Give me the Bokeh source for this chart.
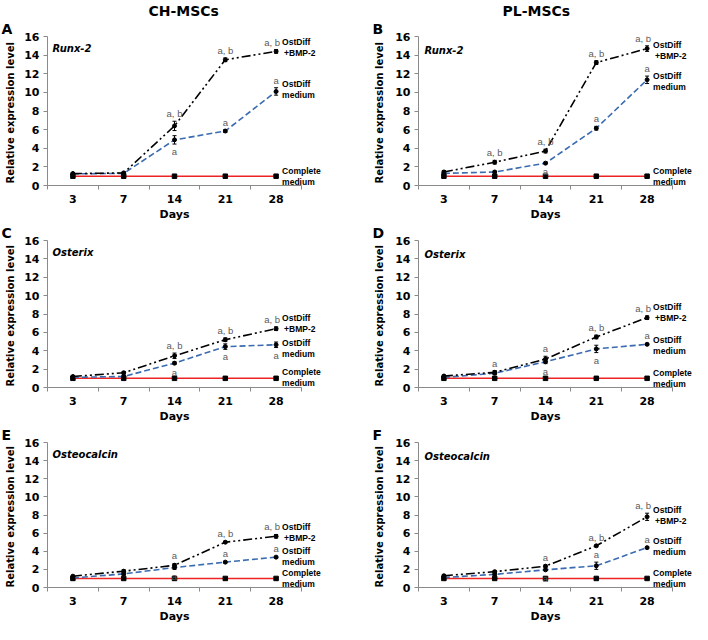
from bokeh.plotting import figure
from bokeh.models import Range1d, FixedTicker, Title, ColumnDataSource, Whisker, TeeHead
from bokeh.layouts import gridplot
from bokeh.embed import file_html
from bokeh.resources import INLINE
from bokeh.core.properties import value

# ---------------- data ----------------
days = ["3", "7", "14", "21", "28"]
x_idx = [1, 2, 3, 4, 5]
y_ticks = [0, 2, 4, 6, 8, 10, 12, 14, 16]

headers = ["CH-MSCs", "PL-MSCs"]
panel_letters = ["A", "B", "C", "D", "E", "F"]
genes = ["Runx-2", "Runx-2", "Osterix", "Osterix", "Osteocalcin", "Osteocalcin"]

# Panel A  (CH-MSCs, Runx-2)
A_complete = [1.0, 1.0, 1.0, 1.0, 1.0]
A_ostdiff = [1.25, 1.3, 4.9, 5.85, 10.1]
A_bmp2 = [1.28, 1.35, 6.4, 13.5, 14.4]
A_ostdiff_err = [0.1, 0.1, 0.45, 0.15, 0.4]
A_bmp2_err = [0.1, 0.1, 0.5, 0.2, 0.2]
A_notes = [("bmp2", 2, "a, b", "above"), ("ostdiff", 2, "a", "below"),
           ("ostdiff", 3, "a", "above"), ("bmp2", 3, "a, b", "above"),
           ("bmp2", 4, "a, b", "above"), ("ostdiff", 4, "a", "above")]
A_label_y = [14.8, 10.3, 0.95]

# Panel B  (PL-MSCs, Runx-2)
B_complete = [1.0, 1.0, 1.0, 1.0, 1.0]
B_ostdiff = [1.3, 1.45, 2.4, 6.15, 11.35]
B_bmp2 = [1.45, 2.5, 3.7, 13.2, 14.7]
B_ostdiff_err = [0.1, 0.1, 0.1, 0.2, 0.4]
B_bmp2_err = [0.15, 0.2, 0.2, 0.2, 0.3]
B_notes = [("bmp2", 1, "a, b", "above"), ("bmp2", 2, "a, b", "above"),
           ("ostdiff", 2, "a", "below"), ("ostdiff", 3, "a", "above"),
           ("bmp2", 3, "a, b", "above"), ("bmp2", 4, "a, b", "above"),
           ("ostdiff", 4, "a", "above")]
B_label_y = [14.5, 11.15, 0.95]

# Panel C  (CH-MSCs, Osterix)
C_complete = [1.0, 1.0, 1.0, 1.0, 1.0]
C_ostdiff = [1.1, 1.2, 2.65, 4.45, 4.65]
C_bmp2 = [1.2, 1.6, 3.45, 5.2, 6.4]
C_ostdiff_err = [0.1, 0.1, 0.15, 0.3, 0.3]
C_bmp2_err = [0.1, 0.15, 0.3, 0.2, 0.2]
C_notes = [("bmp2", 2, "a, b", "above"), ("ostdiff", 2, "a", "below"),
           ("bmp2", 3, "a, b", "above"), ("ostdiff", 3, "a", "below"),
           ("bmp2", 4, "a, b", "above"), ("ostdiff", 4, "a", "below")]
C_label_y = [6.95, 4.2, 1.05]

# Panel D  (PL-MSCs, Osterix)
D_complete = [1.0, 1.0, 1.0, 1.0, 1.0]
D_ostdiff = [1.1, 1.55, 2.8, 4.2, 4.7]
D_bmp2 = [1.25, 1.65, 3.1, 5.5, 7.6]
D_ostdiff_err = [0.1, 0.1, 0.2, 0.4, 0.1]
D_bmp2_err = [0.1, 0.2, 0.3, 0.2, 0.2]
D_notes = [("bmp2", 1, "a", "above"), ("bmp2", 2, "a", "above"),
           ("ostdiff", 2, "a", "below"), ("bmp2", 3, "a, b", "above"),
           ("ostdiff", 3, "a", "below"), ("bmp2", 4, "a, b", "above"),
           ("ostdiff", 4, "a", "above")]
D_label_y = [8.15, 4.6, 0.95]

# Panel E  (CH-MSCs, Osteocalcin)
E_complete = [1.0, 1.0, 1.0, 1.0, 1.0]
E_ostdiff = [1.05, 1.5, 2.2, 2.8, 3.35]
E_bmp2 = [1.25, 1.8, 2.45, 5.0, 5.65]
E_ostdiff_err = [0.1, 0.15, 0.2, 0.1, 0.1]
E_bmp2_err = [0.1, 0.15, 0.2, 0.1, 0.2]
E_notes = [("bmp2", 2, "a", "above"), ("ostdiff", 2, "a", "below"),
           ("ostdiff", 3, "a", "above"), ("bmp2", 3, "a, b", "above"),
           ("bmp2", 4, "a, b", "above"), ("ostdiff", 4, "a", "above")]
E_label_y = [6.1, 3.4, 0.95]

# Panel F  (PL-MSCs, Osteocalcin)
F_complete = [1.0, 1.0, 1.0, 1.0, 1.0]
F_ostdiff = [1.1, 1.45, 1.95, 2.4, 4.4]
F_bmp2 = [1.3, 1.75, 2.35, 4.6, 7.8]
F_ostdiff_err = [0.1, 0.1, 0.1, 0.4, 0.1]
F_bmp2_err = [0.1, 0.1, 0.15, 0.1, 0.4]
F_notes = [("bmp2", 2, "a", "above"), ("ostdiff", 2, "a", "below"),
           ("ostdiff", 3, "a", "above"), ("bmp2", 3, "a, b", "above"),
           ("bmp2", 4, "a, b", "above"), ("ostdiff", 4, "a", "above")]
F_label_y = [8.0, 4.55, 1.0]

series_labels = [("OstDiff", "+BMP-2"), ("OstDiff", "medium"), ("Complete", "medium")]

# ---------------- style ----------------
BOLD = "DejaVu Sans"
SMALL = "Liberation Sans"
BLUE = "#3b6bb0"
RED = "#ee2424"
GREY = "#5a5a5a"
AXIS = "#8a8a8a"

PPU = 50.8          # pixels per day-category
ROWS = [dict(h=222, top=33, bottom=37), dict(h=202, top=16, bottom=37), dict(h=200, top=16, bottom=37)]
COLS = [dict(w=346, left=47, right=22, ttl_standoff=5, gene_dx=5, gene_dy=12, head_dx=101),
        dict(w=346, left=72, right=0, ttl_standoff=7, gene_dx=6, gene_dy=14, head_dx=84)]


def title(text, offset, size, where, p):
    p.add_layout(Title(text=text, align="left", offset=offset, standoff=0,
                       text_font=BOLD, text_font_style="bold", text_font_size=size,
                       text_line_height=1.0, text_color="black"), where)


def make_panel(i, complete, ostdiff, bmp2, od_err, bm_err, notes, label_y):
    r, c = divmod(i, 2)
    R, C = ROWS[r], COLS[c]
    fw = C["w"] - C["left"] - C["right"]
    x_end = 0.5 + fw / PPU
    p = figure(width=C["w"], height=R["h"], output_backend="svg",
               toolbar_location=None, title=None,
               x_range=Range1d(0.5, x_end), y_range=Range1d(0, 16),
               min_border_left=C["left"], min_border_right=C["right"],
               min_border_top=R["top"], min_border_bottom=R["bottom"])
    p.outline_line_color = None
    p.grid.visible = False
    p.background_fill_color = "white"
    p.border_fill_color = "white"

    # x axis: labels at category centres, tick marks between categories
    xa = p.xaxis[0]
    xa.bounds = (0.5, 5.5)
    xa.ticker = FixedTicker(ticks=x_idx, minor_ticks=[0.5, 1.5, 2.5, 3.5, 4.5, 5.5])
    xa.major_label_overrides = {k: d for k, d in zip(x_idx, days)}
    xa.major_tick_line_color = None
    xa.major_tick_out = 4
    xa.major_tick_in = 0
    xa.minor_tick_out = 4
    xa.minor_tick_in = 0
    xa.minor_tick_line_color = AXIS
    xa.axis_line_color = AXIS
    xa.major_label_standoff = 5
    xa.major_label_text_font = BOLD
    xa.major_label_text_font_style = "bold"
    xa.major_label_text_font_size = "11px"
    xa.major_label_text_color = "black"

    ya = p.yaxis[0]
    ya.ticker = FixedTicker(ticks=y_ticks)
    ya.major_tick_out = 4
    ya.major_tick_in = 0
    ya.minor_tick_line_color = None
    ya.major_tick_line_color = AXIS
    ya.axis_line_color = AXIS
    ya.major_label_standoff = 4
    ya.major_label_text_font = BOLD
    ya.major_label_text_font_style = "bold"
    ya.major_label_text_font_size = "11px"
    ya.major_label_text_color = "black"
    ya.axis_label = "Relative  expression level"
    ya.axis_label_text_font = BOLD
    ya.axis_label_text_font_style = "bold"
    ya.axis_label_text_font_size = "10px"
    ya.axis_label_standoff = C["ttl_standoff"]
    ya.axis_label_text_color = "black"

    # "Days" under the tick labels, centred on the middle category
    title("Days", 2.5 * PPU - 15, "11px", "below", p)
    # panel letter and column header
    title(panel_letters[i], -46, "14px", "above", p)
    if r == 0:
        title(headers[c], C["head_dx"], "14px", "above", p)

    # series
    p.line(x_idx, complete, line_color=RED, line_width=1.6)
    p.scatter(x_idx, complete, marker="square", size=4.5, color="black")
    p.line(x_idx, ostdiff, line_color=BLUE, line_width=1.6, line_dash="6 3")
    p.line(x_idx, bmp2, line_color="black", line_width=1.6, line_dash="9 3 2 3 2 3")

    for vals, errs in ((ostdiff, od_err), (bmp2, bm_err)):
        src = ColumnDataSource(dict(x=x_idx, lo=[v - e for v, e in zip(vals, errs)],
                                    hi=[v + e for v, e in zip(vals, errs)]))
        p.add_layout(Whisker(source=src, base="x", lower="lo", upper="hi", line_color="black",
                             line_width=1,
                             upper_head=TeeHead(size=4, line_color="black", line_width=1),
                             lower_head=TeeHead(size=4, line_color="black", line_width=1)))
        p.scatter(x_idx, vals, marker="circle", size=4, color="black")

    # significance notes
    series = {"ostdiff": (ostdiff, od_err), "bmp2": (bmp2, bm_err)}
    for s, k, t, sd in notes:
        v, e = series[s]
        last_pair = (k == len(x_idx) - 1 and t == "a, b")
        p.text([x_idx[k]], [v[k] + e[k] if sd == "above" else v[k] - e[k]], text=[t],
               text_font=value(SMALL), text_font_size="9.5px", text_color=GREY,
               text_align="right" if last_pair else "center",
               x_offset=4 if last_pair else 0,
               text_baseline="bottom" if sd == "above" else "top",
               y_offset=-2 if sd == "above" else 2)

    # gene name
    p.text([0.5], [16], text=[genes[i]], text_font=value(BOLD), text_font_style="bold italic",
           text_font_size="10px", text_color="black", text_align="left",
           text_baseline="middle", x_offset=C["gene_dx"], y_offset=C["gene_dy"])

    # right-hand series labels
    for (l1, l2), yy in zip(series_labels, label_y):
        p.text([x_idx[-1]], [yy], text=[l1], text_font=value(SMALL), text_font_style="bold",
               text_font_size="8.5px", text_color="black", text_align="left",
               text_baseline="middle", x_offset=6, y_offset=-5.5)
        p.text([x_idx[-1]], [yy], text=[l2], text_font=value(SMALL), text_font_style="bold",
               text_font_size="8.5px", text_color="black", text_align="left",
               text_baseline="middle", x_offset=8 if l2 == "+BMP-2" else 6, y_offset=5.5)
    return p


pA = make_panel(0, A_complete, A_ostdiff, A_bmp2, A_ostdiff_err, A_bmp2_err, A_notes, A_label_y)
pB = make_panel(1, B_complete, B_ostdiff, B_bmp2, B_ostdiff_err, B_bmp2_err, B_notes, B_label_y)
pC = make_panel(2, C_complete, C_ostdiff, C_bmp2, C_ostdiff_err, C_bmp2_err, C_notes, C_label_y)
pD = make_panel(3, D_complete, D_ostdiff, D_bmp2, D_ostdiff_err, D_bmp2_err, D_notes, D_label_y)
pE = make_panel(4, E_complete, E_ostdiff, E_bmp2, E_ostdiff_err, E_bmp2_err, E_notes, E_label_y)
pF = make_panel(5, F_complete, F_ostdiff, F_bmp2, F_ostdiff_err, F_bmp2_err, F_notes, F_label_y)

grid = gridplot([[pA, pB], [pC, pD], [pE, pF]], toolbar_location=None)
open("out.html", "w").write(file_html(grid, INLINE))
